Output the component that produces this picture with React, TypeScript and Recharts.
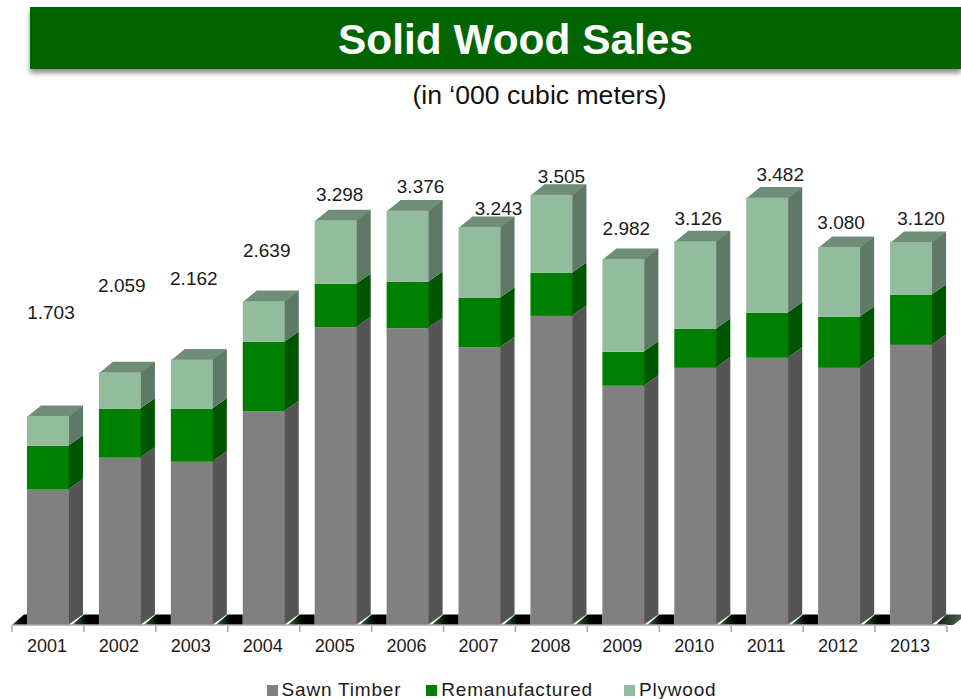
import React from "react";
import { ComposedChart, Bar, Line, XAxis, YAxis, Legend, LabelList } from "recharts";

const years = ["2001","2002","2003","2004","2005","2006","2007","2008","2009","2010","2011","2012","2013"];
const sawnTimber = [1103,1363,1330,1741,2425,2417,2262,2518,1949,2095,2177,2095,2282];
const remanufactured = [358,399,431,565,354,378,403,350,277,317,366,415,407];
const plywood = [242,297,401,333,519,581,578,637,756,714,939,570,431];
const totalLabels = ["1.703","2.059","2.162","2.639","3.298","3.376","3.243","3.505","2.982","3.126","3.482","3.080","3.120"];
// heights on the value axis at which the total labels sit in the source picture
const labelLevels = [2545,2764,2821,3049,3504,3569,3390,3650,3228,3309,3667,3276,3309];
const labelShiftX = [3,2,2,3,4,13,19,10,3,3,13,2,10];

const rows = years.map((year, i) => ({
  year,
  sawn: sawnTimber[i],
  reman: remanufactured[i],
  ply: plywood[i],
  level: labelLevels[i],
  total: totalLabels[i],
}));

const FONT = '"Liberation Sans", Arial, sans-serif';
const DX = 14;
const DY = 10.5;
const BAND = 71.92;

function Bar3D(front: string, side: string, top: string | null, floor: boolean) {
  return (p: any) => {
    const { x, y, width: w, height: h, index } = p;
    const b = y + h;
    return (
      <g>
        {floor && index === 0 && (
          <defs>
            <linearGradient id="floorGrad" x1="0" y1="0" x2="1" y2="0">
              <stop offset="0" stopColor="#2f6b3a" />
              <stop offset="0.42" stopColor="#0a1a0c" />
              <stop offset="0.55" stopColor="#000" />
              <stop offset="1" stopColor="#000" />
            </linearGradient>
            <linearGradient id="floorEnd" x1="0" y1="0" x2="1" y2="0">
              <stop offset="0" stopColor="#0b1f0e" />
              <stop offset="1" stopColor="#55705c" />
            </linearGradient>
          </defs>
        )}
        {floor && (
          <polygon
            points={
              index === 0
                ? `${x - 15},${b} ${x - 3},${b - DY} ${x},${b - DY} ${x},${b}`
                : `${x - 27},${b} ${x - 15},${b - DY} ${x},${b - DY} ${x},${b}`
            }
            fill="url(#floorGrad)"
          />
        )}
        {floor && index === years.length - 1 && (
          <polygon
            points={`${x + w + 4},${b} ${x + w + 21},${b} ${x + w + 35},${b - DY} ${x + w + 14},${b - DY}`}
            fill="url(#floorEnd)"
          />
        )}
        <polygon
          points={`${x + w - 1},${y} ${x + w + DX},${y - DY} ${x + w + DX},${b - DY} ${x + w - 1},${b}`}
          fill={side}
        />
        {top && (
          <polygon
            points={`${x},${y + 1} ${x + DX},${y - DY} ${x + w + DX},${y - DY} ${x + w},${y + 1}`}
            fill={top}
          />
        )}
        <rect x={x} y={y} width={w} height={h} fill={front} />
      </g>
    );
  };
}

const YearTick = (p: any) => {
  const { x, y, payload, index } = p;
  const left = x - BAND / 2;
  return (
    <g>
      <line x1={left} x2={left} y1={y - 7} y2={y - 1} stroke="#a6a6a6" strokeWidth={1.5} />
      {index === years.length - 1 && (
        <line x1={left + BAND} x2={left + BAND} y1={y - 7} y2={y - 1} stroke="#a6a6a6" strokeWidth={1.5} />
      )}
      <text x={x - 1} y={y + 13} textAnchor="middle" dominantBaseline="central" fontFamily={FONT} fontSize={18} fill="#1a1a1a">
        {payload.value}
      </text>
    </g>
  );
};

const TotalLabel = (p: any) => {
  const { x, y, value, index } = p;
  return (
    <text x={x + labelShiftX[index]} y={y} textAnchor="middle" dominantBaseline="central" fontFamily={FONT} fontSize={19} fill="#1a1a1a">
      {value}
    </text>
  );
};

const legendCss = `
.recharts-legend-item:nth-child(1){margin-right:25px !important}
.recharts-legend-item:nth-child(2){margin-right:31px !important}
`;

export default function App() {
  return (
    <div style={{ position: "absolute", left: 0, top: 0, width: 961, height: 699, overflow: "hidden", background: "#fff" }}>
      <style>{legendCss}</style>
      <div
        style={{
          position: "absolute", left: 30, top: 7, width: 931, height: 62, background: "#006400",
          boxShadow: "0 4px 5px rgba(0,0,0,0.45)", color: "#fff", fontFamily: FONT, fontWeight: 700,
          fontSize: 42.4, lineHeight: "65px", textAlign: "center", boxSizing: "border-box", paddingLeft: 40,
        }}
      >
        Solid Wood Sales
      </div>
      <div
        style={{
          position: "absolute", left: 30, top: 78, width: 1019, textAlign: "center", fontFamily: FONT,
          fontSize: 26.6, lineHeight: "34px", color: "#111",
        }}
      >
        (in ‘000 cubic meters)
      </div>
      <ComposedChart
        width={961}
        height={699}
        data={rows}
        margin={{ top: 134, right: 14, bottom: 20, left: 12 }}
        style={{ position: "absolute", left: 0, top: 0 }}
      >
        <XAxis
          dataKey="year"
          height={30}
          interval={0}
          axisLine={{ stroke: "#a6a6a6", strokeWidth: 1.5 }}
          tickLine={false}
          tick={YearTick}
        />
        <YAxis hide domain={[0, 4000]} />
        <Bar dataKey="sawn" name="Sawn Timber" stackId="a" barSize={42} fill="#808080" isAnimationActive={false} shape={Bar3D("#808080", "#555555", null, true)} />
        <Bar dataKey="reman" name="Remanufactured" stackId="a" barSize={42} fill="#008000" isAnimationActive={false} shape={Bar3D("#008000", "#005500", null, false)} />
        <Bar dataKey="ply" name="Plywood" stackId="a" barSize={42} fill="#92BC9C" isAnimationActive={false} shape={Bar3D("#92BC9C", "#5F7967", "#6F8D79", false)} />
        <Line dataKey="level" stroke="none" dot={false} legendType="none" isAnimationActive={false}>
          <LabelList dataKey="total" content={TotalLabel} />
        </Line>
        <Legend
          verticalAlign="bottom"
          align="center"
          height={24}
          iconType="square"
          iconSize={11}
          itemSorter={null}
          wrapperStyle={{ bottom: -4, left: 29, fontFamily: FONT, fontSize: 19, letterSpacing: 0.8 }}
          formatter={(v: string) => <span style={{ color: "#1a1a1a" }}>{v}</span>}
        />
      </ComposedChart>
    </div>
  );
}
